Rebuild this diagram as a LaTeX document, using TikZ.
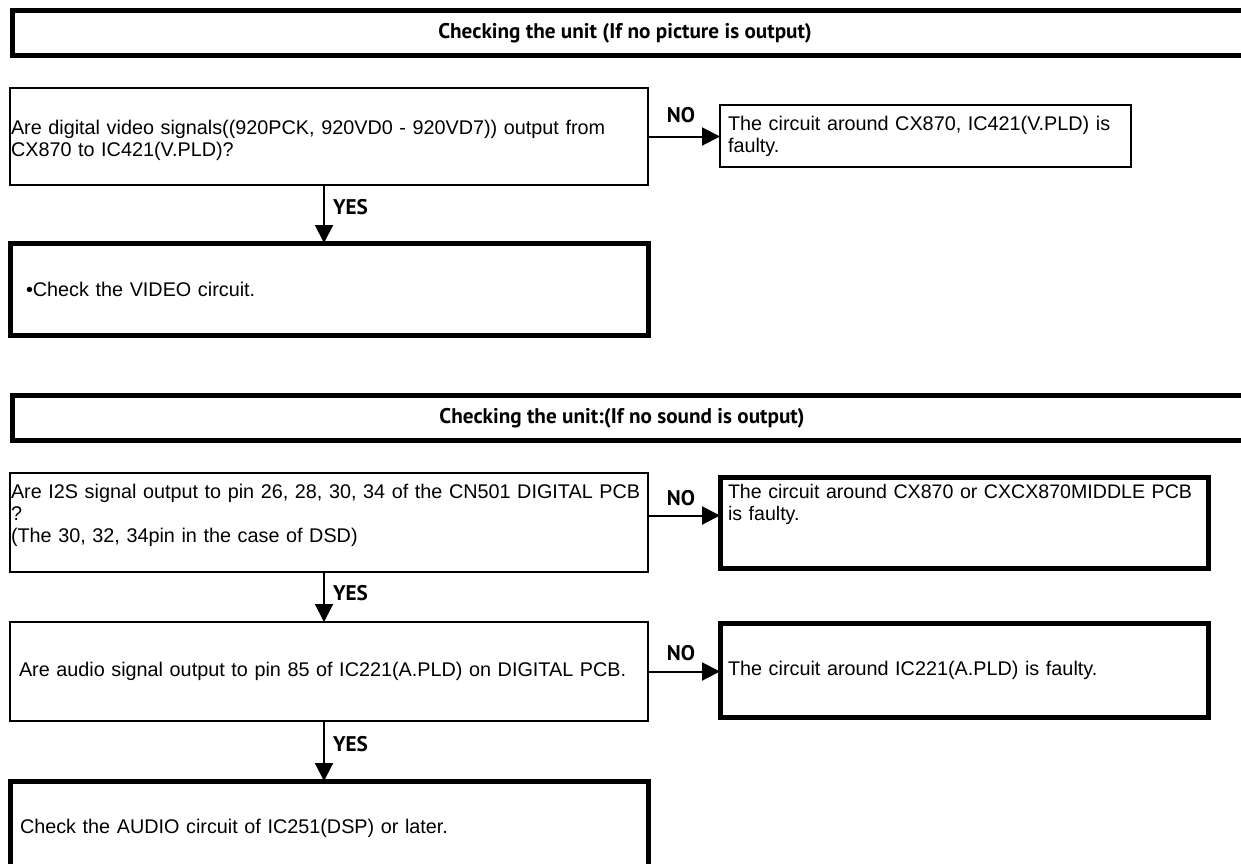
\documentclass[tikz,border=0pt]{standalone}
\usepackage{fontspec}
\setmainfont{Liberation Sans}
\newfontfamily\labelfont{PT Sans}
\usetikzlibrary{arrows.meta, positioning, calc}

\begin{document}
\begin{tikzpicture}[
    x=0.5pt, y=-0.5pt,
    every node/.style={font=\fontsize{9.9}{11}\selectfont},
]
\tikzset{
    box/.style={draw, rectangle, anchor=north west, outer sep=0pt,
        inner ysep=0pt, align=left, line width=1pt},
    heavy/.style={line width=2.5pt},
    tag/.style={font=\labelfont\bfseries\fontsize{10.6}{12}\selectfont, inner sep=2pt},
    flow/.style={-{Triangle[length=9pt, width=9pt]}, line width=1pt},
    frame/.style={line width=2.5pt},
}

\useasboundingbox (0,0) rectangle (1241,863);
\clip (0,0) rectangle (1241,863);

% ---------------------------------------------------------------- picture check
\draw[frame] (1260,10.8) -- (12.5,10.8) -- (12.5,55.8) -- (1260,55.8);
\node[tag] (head1) at (625,33) {Checking the unit (If no picture is output)};

\node[box, minimum width=319pt, minimum height=48.5pt, inner xsep=0.5pt, text width=318pt,
    text depth=9pt]
    (q1) at (10,88)
    {Are digital video signals((920PCK, 920VD0 - 920VD7)) output from\\CX870 to IC421(V.PLD)?};
\node[box, minimum width=205.5pt, minimum height=31pt, inner xsep=4pt, text width=197.5pt]
    (r1) at (720,105)
    {The circuit around CX870, IC421(V.PLD) is\\faulty.};
\node[box, heavy, minimum width=319pt, minimum height=46pt, inner xsep=8pt, text width=303pt]
    (v) at (10,243)
    {\textbullet Check the VIDEO circuit.};

\draw[flow] (q1.east) -- (q1.east -| r1.west)
    node[tag, midway, above, xshift=-1.5pt, yshift=4.5pt] (no1) {NO};
\draw[flow] ([xshift=-2.5pt]q1.south) -- ([xshift=-2.5pt]v.north)
    node[tag, midway, right, xshift=2pt, yshift=3.5pt] (yes1) {YES};

% ---------------------------------------------------------------- sound check
\draw[frame] (1260,395.8) -- (12.5,395.8) -- (12.5,440.8) -- (1260,440.8);
\node[tag] (head2) at (622,418) {Checking the unit:(If no sound is output)};

\node[box, minimum width=319pt, minimum height=49.5pt, inner xsep=0.5pt, text width=318pt,
    text depth=30.7pt]
    (q2) at (10,473)
    {Are I2S signal output to pin 26, 28, 30, 34 of the CN501 DIGITAL PCB\\?\\(The 30, 32, 34pin in the case of DSD)};
\node[box, heavy, minimum width=244pt, minimum height=45.5pt, inner xsep=4pt, text width=236pt,
    text depth=30.7pt, font=\fontsize{9.8}{11}\selectfont]
    (r2) at (720,477)
    {The circuit around CX870 or CXCX870MIDDLE PCB\\is faulty.};
\node[box, minimum width=319pt, minimum height=49.5pt, inner xsep=4.5pt, text width=310pt]
    (q3) at (10,622)
    {Are audio signal output to pin 85 of IC221(A.PLD) on DIGITAL PCB.};
\node[box, heavy, minimum width=244pt, minimum height=47pt, inner xsep=4pt, text width=236pt]
    (r3) at (720,623)
    {The circuit around IC221(A.PLD) is faulty.};
\node[box, heavy, minimum width=319pt, minimum height=47.5pt, inner xsep=5pt, text width=309pt]
    (fin) at (10,781)
    {Check the AUDIO circuit of IC251(DSP) or later.};

\draw[flow] ([yshift=3.5pt]q2.east) -- ([yshift=3.5pt]r2.west)
    node[tag, midway, above, xshift=-1.5pt, yshift=2.5pt] (no2) {NO};
\draw[flow] (q3.east) -- (q3.east -| r3.west)
    node[tag, midway, above, xshift=-1.5pt, yshift=3pt] (no3) {NO};
\draw[flow] ([xshift=-2.5pt]q2.south) -- ([xshift=-2.5pt]q3.north)
    node[tag, midway, right, xshift=2pt, yshift=2pt] (yes2) {YES};
\draw[flow] ([xshift=-2.5pt]q3.south) -- ([xshift=-2.5pt]fin.north)
    node[tag, midway, right, xshift=2pt, yshift=3.5pt] (yes3) {YES};

\end{tikzpicture}
\end{document}
